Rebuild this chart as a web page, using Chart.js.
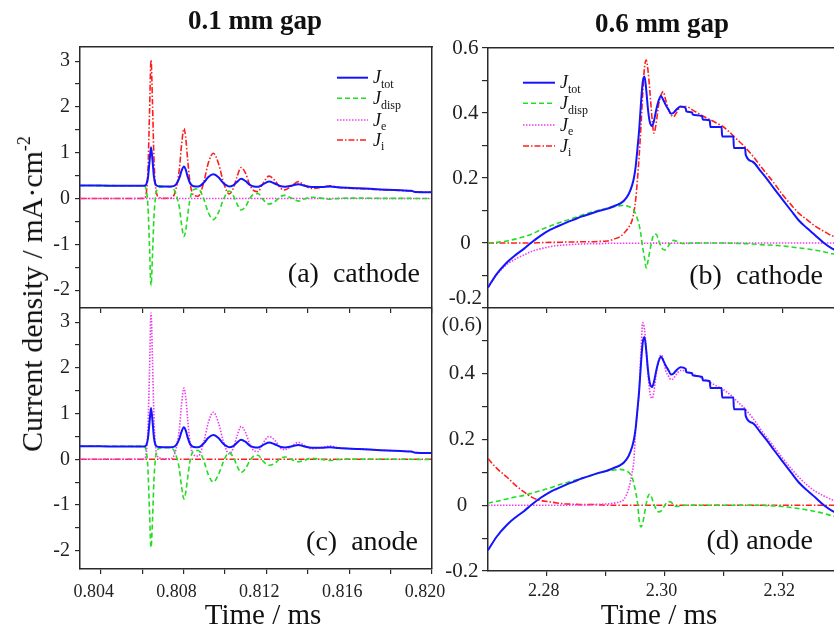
<!DOCTYPE html>
<html><head><meta charset="utf-8">
<script src="https://cdn.jsdelivr.net/npm/chart.js@4.4.0/dist/chart.umd.min.js"></script>
<style>
html,body{margin:0;padding:0;background:#fff;}
#wrap{position:relative;width:834px;height:632px;overflow:hidden;background:#fff;font-family:'Liberation Serif','Times New Roman',serif;color:#111;}
#wrap canvas{position:absolute;}
.t{position:absolute;white-space:pre;line-height:1;}
.lg{position:absolute;white-space:nowrap;line-height:1;font-size:18px;}
.lg i{font-style:italic;}
.lg span{font-size:12px;position:relative;top:4.5px;}
</style></head><body>
<div id="wrap">
<canvas id="cC"></canvas>
<canvas id="cD"></canvas>
<canvas id="cA"></canvas>
<canvas id="cB"></canvas>

<div class="t" style="left:255px;top:7px;font-size:27px;font-weight:bold;transform:translateX(-50%)">0.1 mm gap</div>
<div class="t" style="left:662px;top:10px;font-size:27px;font-weight:bold;transform:translateX(-50%)">0.6 mm gap</div>
<div class="t" style="left:32px;top:294px;font-size:30px;transform:translate(-50%,-50%) rotate(-90deg)">Current density / mA·cm<span style="font-size:18px;position:relative;top:-12px">-2</span></div>
<div class="t" style="left:263px;top:600px;font-size:29px;transform:translateX(-50%)">Time / ms</div>
<div class="t" style="left:659px;top:600px;font-size:29px;transform:translateX(-50%)">Time / ms</div>
<div class="t" style="left:420px;top:259px;font-size:28px;transform:translateX(-100%)">(a)  cathode</div>
<div class="t" style="left:823px;top:261px;font-size:28px;transform:translateX(-100%)">(b)  cathode</div>
<div class="t" style="left:418px;top:527px;font-size:28px;transform:translateX(-100%)">(c)  anode</div>
<div class="t" style="left:813px;top:526px;font-size:28px;transform:translateX(-100%)">(d) anode</div>

<div class="lg" style="left:373px;top:68.4px"><i>J</i><span>tot</span></div>
<div class="lg" style="left:373px;top:89px"><i>J</i><span>disp</span></div>
<div class="lg" style="left:373px;top:110.7px"><i>J</i><span>e</span></div>
<div class="lg" style="left:373px;top:130.7px"><i>J</i><span>i</span></div>
<div class="lg" style="left:560px;top:73.4px"><i>J</i><span>tot</span></div>
<div class="lg" style="left:560px;top:94px"><i>J</i><span>disp</span></div>
<div class="lg" style="left:560px;top:115.7px"><i>J</i><span>e</span></div>
<div class="lg" style="left:560px;top:136.7px"><i>J</i><span>i</span></div>
</div>
<script>
// ---------- 0.1 mm gap (panels a, c) ----------
const T_L = [0.8030, 0.8040, 0.8050, 0.8058, 0.8061, 0.8062, 0.80628, 0.80636, 0.80643, 0.80650, 0.80657, 0.80664, 0.80672, 0.80685, 0.8070, 0.8074, 0.8076, 0.8078, 0.8079, 0.80802, 0.8081, 0.8082, 0.8083, 0.8084, 0.8085, 0.8087, 0.8088, 0.8090, 0.8092, 0.80944, 0.8097, 0.8099, 0.8101, 0.8102, 0.8104, 0.8106, 0.81078, 0.8110, 0.8112, 0.8114, 0.8116, 0.8118, 0.81213, 0.8124, 0.8127, 0.8129, 0.8132, 0.81355, 0.8138, 0.8142, 0.8147, 0.81508, 0.8155, 0.8165, 0.8175, 0.8185, 0.8190, 0.8192, 0.8200];
const JTOT_L = [0.285, 0.283, 0.281, 0.280, 0.280, 0.31, 0.45, 0.82, 1.12, 0.85, 0.48, 0.32, 0.28, 0.268, 0.265, 0.265, 0.29, 0.45, 0.60, 0.70, 0.64, 0.48, 0.35, 0.29, 0.27, 0.263, 0.275, 0.36, 0.47, 0.53, 0.46, 0.35, 0.28, 0.265, 0.29, 0.37, 0.43, 0.38, 0.30, 0.265, 0.26, 0.30, 0.37, 0.33, 0.27, 0.26, 0.28, 0.315, 0.285, 0.25, 0.255, 0.265, 0.245, 0.225, 0.20, 0.18, 0.17, 0.145, 0.138];
const JI_A = [0, 0, 0, 0, 0.005, 0.12, 0.6, 1.9, 3.02, 2.1, 0.9, 0.3, 0.08, 0.02, 0.005, 0.01, 0.15, 0.65, 1.15, 1.53, 1.35, 0.85, 0.40, 0.15, 0.07, 0.05, 0.10, 0.40, 0.78, 0.99, 0.75, 0.40, 0.15, 0.10, 0.22, 0.50, 0.68, 0.55, 0.30, 0.17, 0.15, 0.30, 0.49, 0.40, 0.22, 0.19, 0.27, 0.37, 0.30, 0.22, 0.25, 0.28, 0.24, 0.215, 0.195, 0.175, 0.165, 0.145, 0.138];
const JDISP_A = [0.285, 0.283, 0.281, 0.280, 0.275, 0.19, -0.15, -1.08, -1.90, -1.25, -0.42, 0.02, 0.20, 0.248, 0.26, 0.255, 0.14, -0.20, -0.55, -0.83, -0.71, -0.37, -0.05, 0.14, 0.20, 0.213, 0.175, -0.04, -0.31, -0.46, -0.29, -0.05, 0.13, 0.165, 0.07, -0.13, -0.25, -0.17, 0.0, 0.095, 0.11, 0.0, -0.12, -0.07, 0.05, 0.07, 0.01, -0.055, -0.015, 0.03, 0.005, -0.015, 0.005, 0.01, 0.005, 0.005, 0.005, 0.0, 0.0];
const T_ZERO_L = [0.803, 0.820];
const JE_A = [0, 0];
const JE_C = [0, 0, 0, 0, 0.005, 0.13, 0.65, 2.0, 3.2, 2.2, 0.95, 0.32, 0.09, 0.03, 0.01, 0.015, 0.16, 0.67, 1.18, 1.56, 1.38, 0.88, 0.42, 0.17, 0.09, 0.07, 0.12, 0.42, 0.81, 1.03, 0.78, 0.43, 0.17, 0.12, 0.24, 0.53, 0.72, 0.58, 0.33, 0.19, 0.17, 0.32, 0.50, 0.42, 0.24, 0.21, 0.28, 0.37, 0.31, 0.23, 0.26, 0.29, 0.25, 0.22, 0.20, 0.18, 0.17, 0.15, 0.14];
const JDISP_C = [0.29, 0.287, 0.285, 0.283, 0.277, 0.18, -0.20, -1.18, -1.93, -1.35, -0.47, 0.0, 0.19, 0.24, 0.255, 0.25, 0.13, -0.22, -0.58, -0.87, -0.74, -0.40, -0.07, 0.12, 0.18, 0.193, 0.155, -0.06, -0.34, -0.50, -0.32, -0.08, 0.11, 0.145, 0.05, -0.16, -0.29, -0.20, -0.03, 0.075, 0.09, -0.02, -0.13, -0.09, 0.03, 0.05, 0.0, -0.055, -0.025, 0.02, -0.005, -0.025, -0.005, 0.005, 0.0, 0.0, 0.0, -0.005, -0.005];
const JI_C = [0, 0];

// ---------- 0.6 mm gap (panels b, d) ----------
const T_R = [2.2700, 2.2715, 2.2732, 2.2746, 2.2761, 2.2775, 2.2789, 2.2806, 2.2817, 2.2832, 2.2846, 2.2860, 2.2874, 2.2891, 2.2902, 2.2919, 2.2925, 2.2931, 2.2939, 2.2945, 2.2948, 2.2951, 2.2954, 2.2957, 2.2960, 2.2963, 2.2966, 2.2969, 2.2972, 2.2975, 2.2979, 2.2982, 2.2986, 2.2990, 2.2994, 2.2998, 2.3002, 2.3007, 2.3011, 2.3015, 2.3020, 2.3027, 2.3036, 2.3037, 2.3047, 2.3048, 2.3064, 2.3065, 2.3077, 2.3078, 2.3097, 2.3098, 2.3117, 2.3118, 2.3137, 2.3138, 2.3150, 2.3163, 2.3175, 2.3186, 2.3200, 2.3215, 2.3228, 2.3242, 2.3256, 2.3271, 2.3285, 2.3300];
const JTOT_R = [-0.137, -0.095, -0.060, -0.038, -0.018, 0.003, 0.022, 0.041, 0.050, 0.062, 0.072, 0.082, 0.090, 0.100, 0.105, 0.117, 0.122, 0.130, 0.150, 0.178, 0.200, 0.235, 0.290, 0.350, 0.430, 0.495, 0.512, 0.470, 0.410, 0.372, 0.360, 0.375, 0.410, 0.438, 0.452, 0.440, 0.425, 0.410, 0.398, 0.400, 0.410, 0.420, 0.415, 0.405, 0.402, 0.395, 0.390, 0.380, 0.377, 0.357, 0.357, 0.328, 0.328, 0.292, 0.292, 0.272, 0.250, 0.222, 0.195, 0.168, 0.135, 0.100, 0.070, 0.046, 0.024, 0.000, -0.017, -0.028];
const JI_B = [0, 0, 0, 0, 0, 0, 0.001, 0.002, 0.002, 0.003, 0.003, 0.004, 0.004, 0.005, 0.006, 0.015, 0.020, 0.030, 0.048, 0.070, 0.095, 0.133, 0.195, 0.27, 0.36, 0.46, 0.54, 0.563, 0.53, 0.47, 0.38, 0.338, 0.37, 0.425, 0.455, 0.466, 0.44, 0.41, 0.395, 0.388, 0.400, 0.418, 0.420, 0.420, 0.410, 0.409, 0.392, 0.391, 0.380, 0.379, 0.361, 0.360, 0.330, 0.328, 0.295, 0.293, 0.268, 0.237, 0.210, 0.185, 0.150, 0.118, 0.092, 0.072, 0.052, 0.036, 0.022, 0.014];
const JDISP_B = [0.000, 0.002, 0.006, 0.012, 0.019, 0.028, 0.040, 0.052, 0.060, 0.069, 0.077, 0.086, 0.094, 0.102, 0.107, 0.113, 0.115, 0.116, 0.112, 0.106, 0.100, 0.090, 0.074, 0.055, 0.025, -0.015, -0.045, -0.077, -0.055, -0.025, 0.010, 0.026, 0.027, 0.008, -0.010, -0.020, -0.021, -0.008, 0.003, 0.008, 0.006, 0.000, -0.002, -0.002, 0.000, 0.000, 0.000, 0.000, 0.000, 0.000, 0.000, 0.000, -0.001, -0.001, -0.002, -0.002, -0.003, -0.005, -0.006, -0.007, -0.009, -0.012, -0.015, -0.018, -0.022, -0.027, -0.033, -0.038];
const T_EARLY_R = [2.2700, 2.2715, 2.2732, 2.2746, 2.2761, 2.2775, 2.2789, 2.2806, 2.2817, 2.2832, 2.2846, 2.2860, 2.2874, 2.2891, 2.2902, 2.3300];
const JE_B = [-0.137, -0.097, -0.066, -0.050, -0.037, -0.025, -0.018, -0.011, -0.008, -0.006, -0.004, -0.003, -0.002, -0.002, -0.001, 0.000];
const JI_D = [0.142, 0.112, 0.086, 0.062, 0.041, 0.024, 0.015, 0.010, 0.007, 0.004, 0.003, 0.002, 0.002, 0.001, 0.000, 0.000];
const JE_D = [0, 0, 0, 0, 0, 0, 0, 0, 0, 0, 0.001, 0.001, 0.002, 0.003, 0.004, 0.008, 0.011, 0.018, 0.050, 0.100, 0.137, 0.23, 0.29, 0.35, 0.47, 0.555, 0.535, 0.470, 0.400, 0.345, 0.325, 0.345, 0.400, 0.440, 0.457, 0.445, 0.410, 0.392, 0.382, 0.385, 0.398, 0.410, 0.408, 0.407, 0.400, 0.399, 0.386, 0.385, 0.374, 0.373, 0.355, 0.354, 0.328, 0.326, 0.293, 0.291, 0.265, 0.232, 0.204, 0.178, 0.145, 0.112, 0.086, 0.062, 0.043, 0.028, 0.017, 0.010];
const JDISP_D = [0.007, 0.012, 0.019, 0.025, 0.030, 0.037, 0.044, 0.053, 0.060, 0.068, 0.075, 0.082, 0.090, 0.099, 0.104, 0.108, 0.109, 0.107, 0.100, 0.085, 0.066, 0.040, 0.010, -0.046, -0.066, -0.055, -0.025, 0.005, 0.027, 0.034, 0.020, 0.003, -0.012, -0.020, -0.018, -0.008, 0.004, 0.011, 0.010, 0.002, -0.004, -0.002, 0.000, 0.000, 0.000, 0.000, 0.000, 0.000, 0.000, 0.000, 0.000, 0.000, 0.000, 0.000, 0.000, 0.000, 0.000, 0.000, -0.001, -0.002, -0.004, -0.007, -0.010, -0.014, -0.019, -0.025, -0.032, -0.038];

// ---------- ticks ----------
const X_TICKS_L = [0.804, 0.806, 0.808, 0.810, 0.812, 0.814, 0.816, 0.818, 0.820];
const X_LABELS_L = ['0.804', '', '0.808', '', '0.812', '', '0.816', '', '0.820'];
const Y_TICKS_L = [-2, -1.5, -1, -0.5, 0, 0.5, 1, 1.5, 2, 2.5, 3];
const Y_LABELS_L = ['-2', '', '-1', '', '0', '', '1', '', '2', '', '3'];
const X_TICKS_R = [2.28, 2.29, 2.30, 2.31, 2.32];
const X_LABELS_R = ['2.28', '', '2.30', '', '2.32'];
const Y_TICKS_R = [-0.2, -0.1, 0, 0.1, 0.2, 0.3, 0.4, 0.5, 0.6];
const Y_LABELS_B = [['-0.2', ''], '', '0', '', '0.2', '', '0.4', '', '0.6'];
const Y_LABELS_D = ['-0.2', '', '0', '', '0.2', '', '0.4', '', ['', '(0.6)']];

Chart.defaults.font.family = "'Liberation Serif', 'Times New Roman', serif";
Chart.defaults.color = '#222';

const AXIS = '#2a2a2a';
const STYLE = {
  tot: {borderColor: '#1414ff', borderWidth: 2, borderDash: []},
  disp: {borderColor: '#22dd22', borderWidth: 1.6, borderDash: [5, 3]},
  e: {borderColor: '#f03cf0', borderWidth: 1.6, borderDash: [1.5, 1.5]},
  i: {borderColor: '#ff1e1e', borderWidth: 1.6, borderDash: [6, 2, 1.5, 2]}
};
function series(key, ts, ys) {
  return Object.assign({label: key, data: ts.map((t, i) => ({x: t, y: ys[i]})), pointRadius: 0, fill: false, cubicInterpolationMode: 'monotone'}, STYLE[key]);
}
function align(p, w) { const h = w / 2; return Math.round(p - h) + h; }

const framePlugin = {
  id: 'frame',
  afterDatasetsDraw(chart, args, o) {
    if (!o) return;
    const a = chart.chartArea, ctx = chart.ctx;
    ctx.save(); ctx.strokeStyle = AXIS; ctx.lineWidth = 1.5; ctx.setLineDash([]);
    if (o.top) { const y = align(a.top, 1.5); ctx.beginPath(); ctx.moveTo(a.left, y); ctx.lineTo(a.right + 1, y); ctx.stroke(); }
    if (o.right) { const x = align(a.right, 1.5); ctx.beginPath(); ctx.moveTo(x, a.top); ctx.lineTo(x, a.bottom); ctx.stroke(); }
    ctx.restore();
  }
};
const samplePlugin = {
  id: 'samples',
  afterDatasetsDraw(chart, args, o) {
    if (!o || !o.rows) return;
    const ctx = chart.ctx;
    o.rows.forEach((y, i) => {
      const ds = chart.data.datasets[i];
      ctx.save(); ctx.strokeStyle = ds.borderColor; ctx.lineWidth = ds.borderWidth; ctx.setLineDash(ds.borderDash || []);
      ctx.beginPath(); ctx.moveTo(o.x1, y); ctx.lineTo(o.x2, y); ctx.stroke(); ctx.restore();
    });
  }
};

function makePanel(id, cb, area, cfg) {
  const cv = document.getElementById(id);
  cv.width = cb.w; cv.height = cb.h;
  cv.style.left = cb.x + 'px'; cv.style.top = cb.y + 'px';
  cv.style.width = cb.w + 'px'; cv.style.height = cb.h + 'px';
  const yW = area.left - cb.x, padTop = area.top - cb.y, padRight = cb.x + cb.w - area.right, xH = cb.y + cb.h - area.bottom;
  const samples = cfg.samples ? {x1: cfg.samples.x1 - cb.x, x2: cfg.samples.x2 - cb.x, rows: cfg.samples.rows.map(r => r - cb.y)} : null;
  return new Chart(cv, {
    type: 'line',
    data: {datasets: cfg.datasets},
    options: {
      responsive: false, animation: false, devicePixelRatio: 1, events: [],
      layout: {padding: {left: 0, top: padTop, right: padRight, bottom: 0}},
      plugins: {legend: {display: false}, tooltip: {enabled: false}, frame: cfg.frame, samples: samples},
      scales: {
        x: {
          type: 'linear', position: 'bottom', min: cfg.xMin, max: cfg.xMax,
          afterBuildTicks: s => { s.ticks = cfg.xTicks.map(v => ({value: v})); },
          afterFit: s => { s.height = xH; s.paddingLeft = 0; s.paddingRight = 0; },
          grid: {display: true, drawOnChartArea: false, drawTicks: true, tickLength: 5, color: AXIS, lineWidth: 1.2},
          border: {display: true, color: AXIS, width: 1.5},
          ticks: {display: !!cfg.xLabels, autoSkip: false, maxRotation: 0, minRotation: 0, padding: cfg.xPad, labelOffset: cfg.xOff,
                  font: {size: 18}, color: '#222', callback: (v, i) => cfg.xLabels ? cfg.xLabels[i] : ''}
        },
        y: {
          type: 'linear', position: 'left', min: cfg.yMin, max: cfg.yMax,
          afterBuildTicks: s => { s.ticks = cfg.yTicks.map(v => ({value: v})); },
          afterFit: s => { s.width = yW; s.paddingTop = 0; s.paddingBottom = 0; },
          grid: {display: true, drawOnChartArea: false, drawTicks: true, tickLength: cfg.yTL, color: AXIS, lineWidth: 1.2},
          border: {display: true, color: AXIS, width: 1.5},
          ticks: {autoSkip: false, crossAlign: cfg.yCross, padding: cfg.yPad, font: {size: cfg.yFont, lineHeight: cfg.yLH},
                  color: '#222', callback: (v, i) => cfg.yLabels[i]}
        }
      }
    },
    plugins: [framePlugin, samplePlugin]
  });
}

// (a) cathode, 0.1 mm
makePanel('cA', {x: 0, y: 30, w: 470, h: 300}, {left: 80, top: 47, right: 432, bottom: 308}, {
  datasets: [series('tot', T_L, JTOT_L), series('disp', T_L, JDISP_A), series('e', T_ZERO_L, JE_A), series('i', T_L, JI_A)],
  xMin: 0.803, xMax: 0.820, xTicks: X_TICKS_L, xLabels: null, xPad: 3, xOff: 0,
  yMin: -2.39, yMax: 3.31, yTicks: Y_TICKS_L, yLabels: Y_LABELS_L, yCross: 'near', yPad: 5, yFont: 20, yLH: 1.2, yTL: 5,
  frame: {top: true, right: true},
  samples: {x1: 337, x2: 368, rows: [77.7, 98.3, 120, 140]}
});
// (c) anode, 0.1 mm
makePanel('cC', {x: 0, y: 290, w: 470, h: 342}, {left: 80, top: 308, right: 432, bottom: 569}, {
  datasets: [series('tot', T_L, JTOT_L), series('disp', T_L, JDISP_C), series('e', T_L, JE_C), series('i', T_ZERO_L, JI_C)],
  xMin: 0.803, xMax: 0.820, xTicks: X_TICKS_L, xLabels: X_LABELS_L, xPad: 7, xOff: -7,
  yMin: -2.4, yMax: 3.31, yTicks: Y_TICKS_L, yLabels: Y_LABELS_L, yCross: 'near', yPad: 5, yFont: 20, yLH: 1.2, yTL: 5,
  frame: {right: true}
});
// (b) cathode, 0.6 mm
makePanel('cB', {x: 420, y: 30, w: 430, h: 300}, {left: 488, top: 48, right: 841, bottom: 308}, {
  datasets: [series('tot', T_R, JTOT_R), series('disp', T_R, JDISP_B), series('e', T_EARLY_R, JE_B), series('i', T_R, JI_B)],
  xMin: 2.27, xMax: 2.33, xTicks: X_TICKS_R, xLabels: null, xPad: 3, xOff: 0,
  yMin: -0.2, yMax: 0.6, yTicks: Y_TICKS_R, yLabels: Y_LABELS_B, yCross: 'center', yPad: 0, yFont: 21, yLH: 0.9, yTL: 6,
  frame: {top: true},
  samples: {x1: 523, x2: 555, rows: [82.7, 103.3, 125, 146]}
});
// (d) anode, 0.6 mm
makePanel('cD', {x: 420, y: 290, w: 430, h: 342}, {left: 488, top: 308, right: 841, bottom: 571}, {
  datasets: [series('tot', T_R, JTOT_R), series('disp', T_R, JDISP_D), series('e', T_R, JE_D), series('i', T_EARLY_R, JI_D)],
  xMin: 2.27, xMax: 2.33, xTicks: X_TICKS_R, xLabels: X_LABELS_R, xPad: 4, xOff: -3,
  yMin: -0.2, yMax: 0.6, yTicks: Y_TICKS_R, yLabels: Y_LABELS_D, yCross: 'center', yPad: 0, yFont: 21, yLH: 1.62, yTL: 6,
  frame: {}
});
</script>
</body></html>
